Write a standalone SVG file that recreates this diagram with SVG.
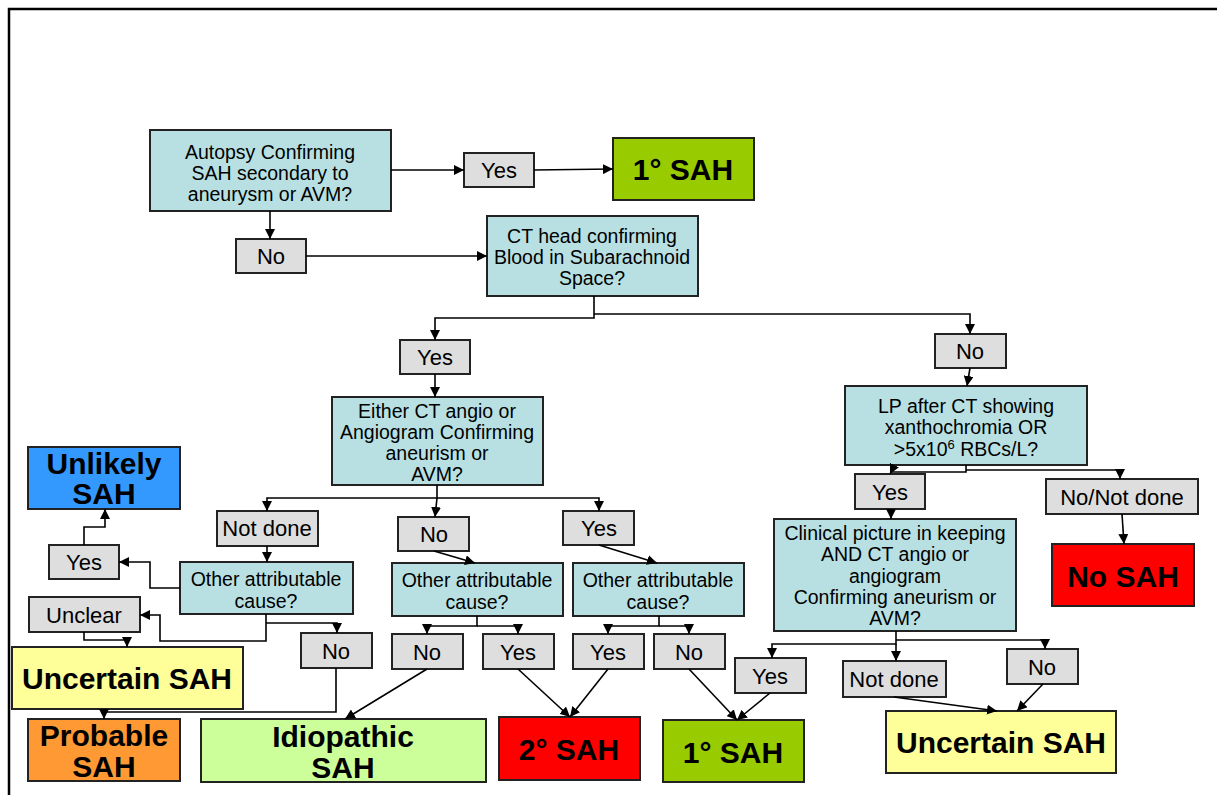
<svg xmlns="http://www.w3.org/2000/svg" width="1217" height="795" viewBox="0 0 1217 795">
  <defs>
    <marker id="arr" markerUnits="userSpaceOnUse" markerWidth="10" markerHeight="10" refX="10" refY="5" orient="auto">
      <path d="M0,0 L10,5 L0,10 z" fill="#000"/>
    </marker>
    <style>
      .q rect { fill: #b8e0e3; stroke: #222; stroke-width: 2; }
      .g rect { fill: #dedede; stroke: #222; stroke-width: 2; }
      .o rect { stroke: #222; stroke-width: 2; }
      .q text { font-family: "Liberation Sans", Arial, sans-serif; font-size: 19.5px; text-anchor: middle; fill: #000; }
      .g text { font-family: "Liberation Sans", Arial, sans-serif; font-size: 22px; text-anchor: middle; fill: #000; }
      .o text { font-family: "Liberation Sans", Arial, sans-serif; font-size: 30px; font-weight: bold; text-anchor: middle; fill: #000; }
      #connectors path { fill: none; stroke: #000; stroke-width: 1.6; marker-end: url(#arr); }
    </style>
  </defs>
  <rect width="1217" height="795" fill="#fff"/>
  <!-- page frame -->
  <path d="M9,795 V9 H1217" fill="none" stroke="#000" stroke-width="2.5"/>

  <!-- question boxes -->
  <g id="q-autopsy" class="q"><rect x="150" y="130" width="241" height="81"/>
    <text x="270" y="159">Autopsy Confirming</text><text x="270" y="180">SAH secondary to</text><text x="270" y="201">aneurysm or AVM?</text></g>
  <g id="q-cthead" class="q"><rect x="487" y="216" width="211" height="80"/>
    <text x="592" y="243">CT head confirming</text><text x="592" y="264">Blood in Subarachnoid</text><text x="592" y="285">Space?</text></g>
  <g id="q-angio" class="q"><rect x="332" y="397" width="211" height="88"/>
    <text x="437" y="418">Either CT angio or</text><text x="437" y="439">Angiogram Confirming</text><text x="437" y="460">aneurism or</text><text x="437" y="481">AVM?</text></g>
  <g id="q-lp" class="q"><rect x="845" y="386" width="242" height="79"/>
    <text x="966" y="413">LP after CT showing</text><text x="966" y="434">xanthochromia OR</text><text x="966" y="456">&gt;5x10<tspan font-size="13" dy="-7">6</tspan><tspan dy="7"> RBCs/L?</tspan></text></g>
  <g id="q-clinical" class="q"><rect x="774" y="519" width="242" height="112"/>
    <text x="895" y="540">Clinical picture in keeping</text><text x="895" y="561">AND CT angio or</text><text x="895" y="583">angiogram</text><text x="895" y="604">Confirming aneurism or</text><text x="895" y="625">AVM?</text></g>
  <g id="q-other1" class="q"><rect x="180" y="562" width="173" height="52"/>
    <text x="266" y="586">Other attributable</text><text x="266" y="608">cause?</text></g>
  <g id="q-other2" class="q"><rect x="392" y="563" width="171" height="53"/>
    <text x="477" y="587">Other attributable</text><text x="477" y="609">cause?</text></g>
  <g id="q-other3" class="q"><rect x="573" y="563" width="171" height="53"/>
    <text x="658" y="587">Other attributable</text><text x="658" y="609">cause?</text></g>

  <!-- answer labels -->
  <g id="a-yes1" class="g"><rect x="464" y="153" width="70" height="34"/><text x="499" y="178">Yes</text></g>
  <g id="a-no1" class="g"><rect x="236" y="239" width="70" height="34"/><text x="271" y="264">No</text></g>
  <g id="a-yes2" class="g"><rect x="400" y="340" width="70" height="34"/><text x="435" y="365">Yes</text></g>
  <g id="a-no2" class="g"><rect x="935" y="334" width="71" height="34"/><text x="970" y="359">No</text></g>
  <g id="a-notdone1" class="g"><rect x="217" y="511" width="101" height="35"/><text x="267" y="536">Not done</text></g>
  <g id="a-no3" class="g"><rect x="398" y="517" width="71" height="34"/><text x="434" y="542">No</text></g>
  <g id="a-yes3" class="g"><rect x="563" y="511" width="71" height="34"/><text x="599" y="536">Yes</text></g>
  <g id="a-yes4" class="g"><rect x="855" y="474" width="70" height="35"/><text x="890" y="500">Yes</text></g>
  <g id="a-nonotdone" class="g"><rect x="1046" y="479" width="152" height="35"/><text x="1122" y="505">No/Not done</text></g>
  <g id="a-yes5" class="g"><rect x="49" y="545" width="70" height="34"/><text x="84" y="570">Yes</text></g>
  <g id="a-unclear" class="g"><rect x="29" y="597" width="111" height="35"/><text x="84" y="623">Unclear</text></g>
  <g id="a-no4" class="g"><rect x="301" y="633" width="71" height="35"/><text x="336" y="659">No</text></g>
  <g id="a-no5" class="g"><rect x="392" y="634" width="71" height="35"/><text x="427" y="660">No</text></g>
  <g id="a-yes6" class="g"><rect x="483" y="634" width="71" height="35"/><text x="518" y="660">Yes</text></g>
  <g id="a-yes7" class="g"><rect x="573" y="634" width="71" height="35"/><text x="608" y="660">Yes</text></g>
  <g id="a-no6" class="g"><rect x="654" y="634" width="71" height="35"/><text x="689" y="660">No</text></g>
  <g id="a-yes8" class="g"><rect x="735" y="658" width="71" height="35"/><text x="770" y="684">Yes</text></g>
  <g id="a-notdone2" class="g"><rect x="843" y="661" width="103" height="36"/><text x="894" y="687">Not done</text></g>
  <g id="a-no7" class="g"><rect x="1007" y="649" width="71" height="35"/><text x="1042" y="675">No</text></g>

  <!-- outcomes -->
  <g id="o-primary1" class="o"><rect x="613" y="138" width="141" height="62" fill="#99cc00"/><text x="683" y="180">1° SAH</text></g>
  <g id="o-unlikely" class="o"><rect x="28" y="447" width="152" height="62" fill="#3399ff"/><text x="104" y="474">Unlikely</text><text x="104" y="504">SAH</text></g>
  <g id="o-nosah" class="o"><rect x="1052" y="544" width="142" height="62" fill="#ff0000"/><text x="1123" y="587">No SAH</text></g>
  <g id="o-uncertain1" class="o"><rect x="12" y="647" width="231" height="62" fill="#ffff99"/><text x="127" y="689">Uncertain SAH</text></g>
  <g id="o-probable" class="o"><rect x="28" y="719" width="152" height="62" fill="#ff9933"/><text x="104" y="746">Probable</text><text x="104" y="777">SAH</text></g>
  <g id="o-idiopathic" class="o"><rect x="201" y="719" width="285" height="63" fill="#ccff99"/><text x="343" y="747">Idiopathic</text><text x="343" y="778">SAH</text></g>
  <g id="o-secondary" class="o"><rect x="499" y="717" width="141" height="63" fill="#ff0000"/><text x="569" y="760">2° SAH</text></g>
  <g id="o-primary2" class="o"><rect x="663" y="720" width="141" height="62" fill="#99cc00"/><text x="733" y="763">1° SAH</text></g>
  <g id="o-uncertain2" class="o"><rect x="886" y="711" width="230" height="62" fill="#ffff99"/><text x="1001" y="753">Uncertain SAH</text></g>

  <g id="connectors">
    <path d="M391,170 H464"/>
    <path d="M534,170 L613,169"/>
    <path d="M270,211 V239"/>
    <path d="M306,256 H487"/>
    <path d="M594,296 V318 H435 V340"/>
    <path d="M594,314 H970 V334"/>
    <path d="M435,374 V397"/>
    <path d="M970,368 L967,386"/>
    <path d="M437,485 V498 H267 V511"/>
    <path d="M437,498 H599 V511"/>
    <path d="M437,498 L435,517"/>
    <path d="M267,546 V562"/>
    <path d="M180,588 H150 V562 H119"/>
    <path d="M84,545 V527 H105 V509"/>
    <path d="M266,614 V641 H160 V615 H140"/>
    <path d="M266,623 H337 V633"/>
    <path d="M84,632 V640 H127 V647"/>
    <path d="M336,668 V712 H104 V719"/>
    <path d="M434,551 L475,563"/>
    <path d="M599,545 L657,563"/>
    <path d="M477,616 V626 H427 V634"/>
    <path d="M477,626 H518 V634"/>
    <path d="M659,616 V626 H608 V634"/>
    <path d="M659,626 H689 V634"/>
    <path d="M427,669 L345,719"/>
    <path d="M518,669 L570,717"/>
    <path d="M608,669 L570,717"/>
    <path d="M689,669 L737,720"/>
    <path d="M770,693 L737,720"/>
    <path d="M966,465 V472 H891 L890,474"/>
    <path d="M966,470 H1120 V479"/>
    <path d="M891,509 V519"/>
    <path d="M1122,514 L1124,544"/>
    <path d="M896,631 V644 H772 V658"/>
    <path d="M896,644 V661"/>
    <path d="M896,640 H1045 V649"/>
    <path d="M894,697 L997,711"/>
    <path d="M1043,684 L1017,711"/>
  </g>
</svg>
